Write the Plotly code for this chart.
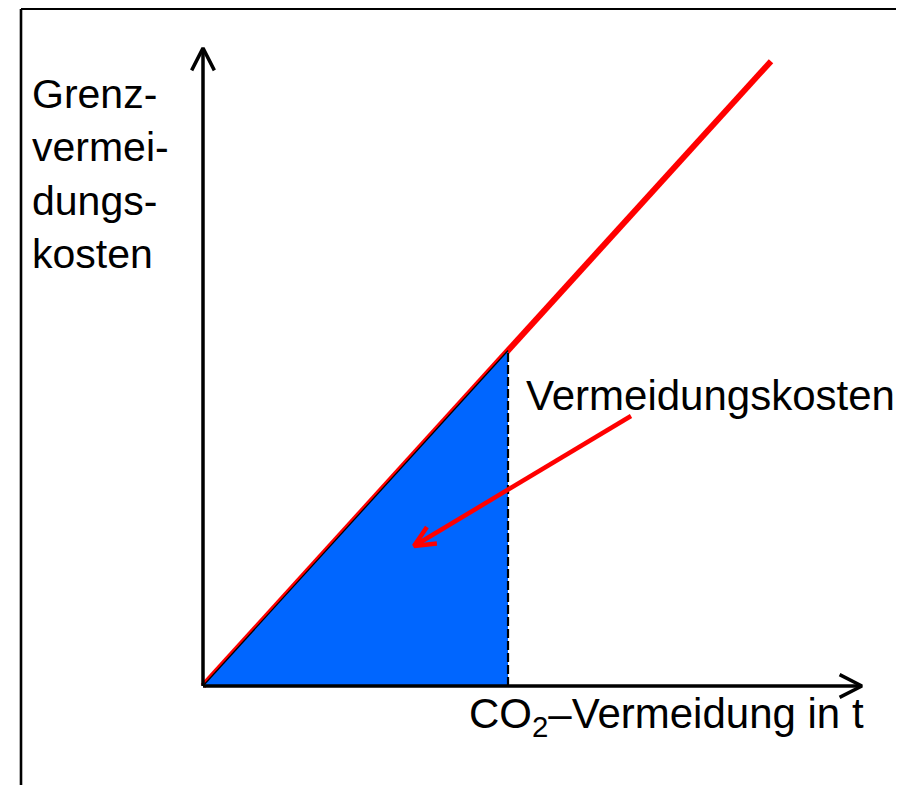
import math
import plotly.graph_objects as go

# ---- data (schematic marginal abatement cost diagram) ----
mac_x = [0, 10.0]          # CO2 abatement quantity (line start/end)
mac_slope = 1.1            # marginal abatement cost slope
q_star = 5.37              # chosen abatement level
x_axis_end = 11.6
y_axis_end = 11.23
label_y = "Grenz-<br>vermei-<br>dungs-<br>kosten"
label_x = "CO<sub>2</sub>–Vermeidung in t"
label_area = "Vermeidungskosten"
arrow_tail = (7.535, 4.754)
arrow_tip = (3.715, 2.465)

mac_y = [mac_slope * v for v in mac_x]
tri_x = [0, q_star, q_star, 0]
tri_y = [0, mac_slope * q_star, 0, 0]

# ---- layout scale (figure is placed with the page's 8px body margin) ----
W, H = 896, 777
PX = 56.8
OX, OY = 195, 678
xr = [-OX / PX, (W - OX) / PX]
yr = [-(H - OY) / PX, OY / PX]

def px(xp, yp):
    return (xp - OX) / PX, (OY - yp) / PX

def chevron(tip, tail, length_px, half_angle_deg):
    dx, dy = tail[0] - tip[0], tail[1] - tip[1]
    n = math.hypot(dx, dy)
    ux, uy = dx / n, dy / n
    L = length_px / PX
    a = math.radians(half_angle_deg)
    pts = []
    for s in (1, -1):
        c, si = math.cos(s * a), math.sin(s * a)
        rx, ry = ux * c - uy * si, ux * si + uy * c
        pts.append((tip[0] + rx * L, tip[1] + ry * L))
    return [pts[0][0], tip[0], pts[1][0]], [pts[0][1], tip[1], pts[1][1]]

FONT = "Arial, Liberation Sans, sans-serif"
fig = go.Figure()

def line(xs, ys, color, width, dash="solid"):
    fig.add_trace(go.Scatter(x=xs, y=ys, mode="lines", hoverinfo="skip",
                             line=dict(color=color, width=width, dash=dash)))

line(mac_x, mac_y, "#FF0000", 6)
fig.add_trace(go.Scatter(x=tri_x, y=tri_y, mode="lines", fill="toself",
                         fillcolor="#0066FF", line=dict(width=0), hoverinfo="skip"))
line([0, q_star], [0, mac_slope * q_star], "black", 1.3)
line([q_star, q_star], [0, mac_slope * q_star], "black", 2.2, "9px,3px")

# axes with chevron heads
line([0, x_axis_end], [0, 0], "black", 3.5)
line([0, 0], [0, y_axis_end], "black", 3.5)
cx, cy = chevron((x_axis_end, 0), (0, 0), 25, 27)
line(cx, cy, "black", 3.5)
cx, cy = chevron((0, y_axis_end), (0, 0), 25, 27)
line(cx, cy, "black", 3.5)

# red pointer arrow
line([arrow_tail[0], arrow_tip[0]], [arrow_tail[1], arrow_tip[1]], "#FF0000", 4.5)
cx, cy = chevron(arrow_tip, arrow_tail, 23, 25)
line(cx, cy, "#FF0000", 4.5)

ann = []
tx, ty = px(22, 166)
ann.append(dict(x=tx, y=ty, xref="x", yref="y", text=label_y, showarrow=False,
                xanchor="left", yanchor="middle", align="left",
                font=dict(family=FONT, size=41, color="black")))
tx, ty = px(516, 387)
ann.append(dict(x=tx, y=ty, xref="x", yref="y", text=label_area, showarrow=False,
                xanchor="left", yanchor="middle",
                font=dict(family=FONT, size=42, color="black")))
tx, ty = px(459, 708)
ann.append(dict(x=tx, y=ty, xref="x", yref="y", text=label_x, showarrow=False,
                xanchor="left", yanchor="middle",
                font=dict(family=FONT, size=42, color="black")))

shapes = [
    dict(type="line", xref="paper", yref="paper", x0=13 / W, x1=1.01, y0=1 - 1 / H, y1=1 - 1 / H,
         line=dict(color="black", width=2.2)),
    dict(type="line", xref="paper", yref="paper", x0=13 / W, x1=13 / W, y0=1 - 1 / H, y1=-0.01,
         line=dict(color="black", width=2.6)),
]

fig.update_layout(
    width=W, height=H, autosize=False,
    margin=dict(l=0, r=0, t=0, b=0),
    paper_bgcolor="white", plot_bgcolor="white",
    showlegend=False,
    xaxis=dict(range=xr, visible=False, fixedrange=True),
    yaxis=dict(range=yr, visible=False, fixedrange=True),
    annotations=ann, shapes=shapes,
)

fig.write_html("out.html")
